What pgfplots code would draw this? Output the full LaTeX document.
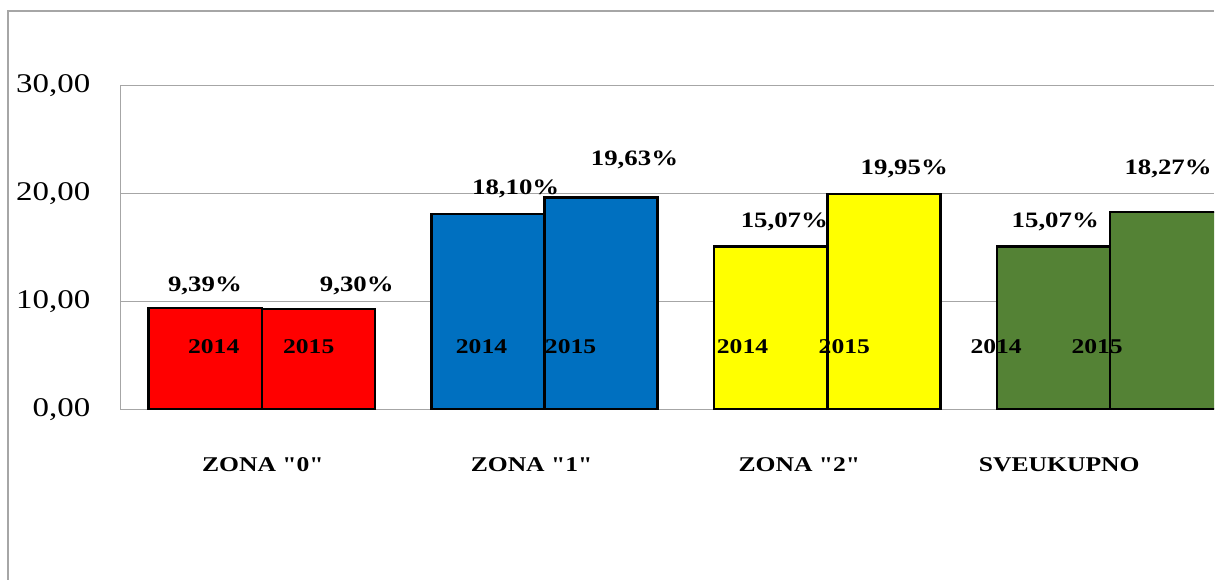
\documentclass[border=0pt]{standalone}
\usepackage{fontspec}
\setmainfont{Liberation Serif}[Ligatures=TeXOff]
\usepackage{graphicx}
\usepackage{pgfplots}
\pgfplotsset{compat=1.18}
\definecolor{zred}{HTML}{FF0000}
\definecolor{zblue}{HTML}{0070C0}
\definecolor{zyellow}{HTML}{FFFF00}
\definecolor{zgreen}{HTML}{548235}
\definecolor{gridgray}{HTML}{A6A6A6}
\newcommand{\sx}[1]{\scalebox{1.22}[1]{#1}}
\begin{document}
\begin{tikzpicture}
\begin{axis}[
  scale only axis, width=1094.5pt, height=324pt,
  xmin=-0.5, xmax=3.3675, ymin=0, ymax=30,
  axis lines=left,
  axis line style={-, gridgray, line width=1.2pt},
  xtick=\empty,
  ytick={0,10,20,30},
  yticklabels={{\sx{0,00}},{\sx{10,00}},{\sx{20,00}},{\sx{30,00}}},
  ymajorgrids,
  grid style={gridgray, line width=1.2pt},
  major tick length=0pt,
  yticklabel style={anchor=east, inner sep=0pt, xshift=-30pt, font=\fontsize{27}{30}\selectfont},
  clip mode=individual,
  every axis plot/.append style={ybar, bar width=0.4, bar shift=0, draw=black, line width=2.5pt},
]
% picture extent and outer chart frame
\path (axis cs:-0.9258,-15.787) rectangle (axis cs:3.3675,37.917);
\draw[gridgray, line width=1.5pt] (axis cs:-0.8975,-15.787) -- (axis cs:-0.8975,36.90) -- (axis cs:3.3675,36.90);

\addplot[fill=zred] coordinates {(-0.2,9.39) (0.2,9.30)};
\addplot[fill=zblue] coordinates {(0.8,18.10) (1.2,19.63)};
\addplot[fill=zyellow] coordinates {(1.8,15.07) (2.2,19.95)};
\addplot[fill=zgreen] coordinates {(2.8,15.07) (3.2,18.27)};

% value labels
\begin{scope}[every node/.style={font=\bfseries\fontsize{22}{24}\selectfont}]
\node at (axis cs:-0.201,11.44) {\sx{9,39\%}};
\node at (axis cs:0.336,11.44) {\sx{9,30\%}};
\node at (axis cs:0.898,20.42) {\sx{18,10\%}};
\node at (axis cs:1.318,23.10) {\sx{19,63\%}};
\node at (axis cs:1.848,17.36) {\sx{15,07\%}};
\node at (axis cs:2.272,22.27) {\sx{19,95\%}};
\node at (axis cs:2.806,17.36) {\sx{15,07\%}};
\node at (axis cs:3.205,22.27) {\sx{18,27\%}};
\end{scope}
% year labels
\begin{scope}[every node/.style={font=\bfseries\fontsize{21}{23}\selectfont}]
\node at (axis cs:-0.170,5.79) {\sx{2014}};
\node at (axis cs:0.166,5.79) {\sx{2015}};
\node at (axis cs:0.777,5.79) {\sx{2014}};
\node at (axis cs:1.092,5.79) {\sx{2015}};
\node at (axis cs:1.700,5.79) {\sx{2014}};
\node at (axis cs:2.060,5.79) {\sx{2015}};
\node at (axis cs:2.597,5.79) {\sx{2014}};
\node at (axis cs:2.954,5.79) {\sx{2015}};
\end{scope}
% category labels
\begin{scope}[every node/.style={font=\bfseries\fontsize{21}{23}\selectfont}]
\node at (axis cs:0.004,-5.14) {\sx{ZONA "0"}};
\node at (axis cs:0.954,-5.14) {\sx{ZONA "1"}};
\node at (axis cs:1.901,-5.14) {\sx{ZONA "2"}};
\node at (axis cs:2.820,-5.14) {\sx{SVEUKUPNO}};
\end{scope}
\end{axis}
\end{tikzpicture}
\end{document}
